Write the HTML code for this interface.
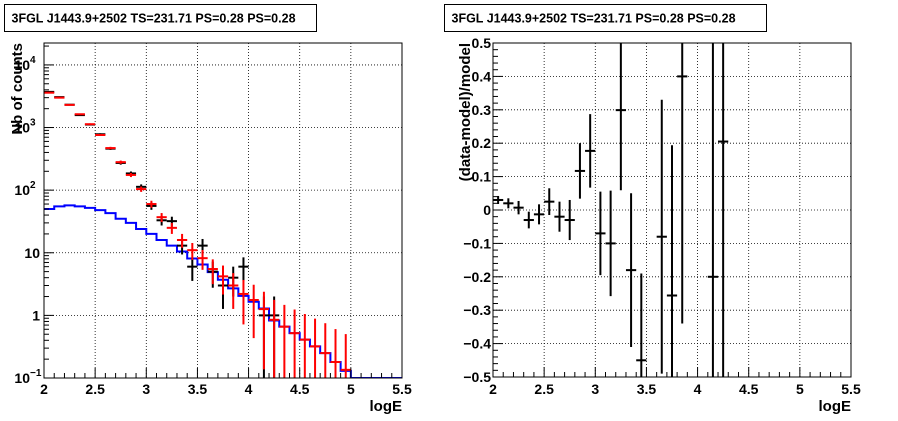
<!DOCTYPE html>
<html><head><meta charset="utf-8"><style>
html,body{margin:0;padding:0;background:#fff;width:898px;height:421px;overflow:hidden;}
svg{display:block;font-family:"Liberation Sans",Arial,sans-serif;font-weight:bold;}
</style></head><body>
<svg id="c" width="898" height="421" viewBox="0 0 898 421" xmlns="http://www.w3.org/2000/svg"></svg>
<script>
const binCenters=[2.05,2.15,2.25,2.35,2.45,2.55,2.65,2.75,2.85,2.95,3.05,3.15,3.25,3.35,3.45,3.55,3.65,3.75,3.85,3.95,4.05,4.15,4.25,4.35,4.45,4.55,4.65,4.75,4.85,4.95];
const dataCounts=[3710,3060,2315,1580,1115,780,460,272,185,113,56,33,32,13,6,13,5,3,4,6,0,1,1,0,0,0,0,0,0,0];
const modelCounts=[3600,3000,2300,1630,1130,760,470,280,175,104,60,37,25,16,11,8.2,5.5,4.2,3.0,2.2,1.76,1.26,0.85,0.66,0.52,0.41,0.32,0.25,0.18,0.135];
const srcEdges=[2.0,2.1,2.2,2.3,2.4,2.5,2.6,2.7,2.8,2.9,3.0,3.1,3.2,3.3,3.4,3.5,3.6,3.7,3.8,3.9,4.0,4.1,4.2,4.3,4.4,4.5,4.6,4.7,4.8,4.9,5.0,5.5];
const srcCounts=[50,55,57,55,52,48,43,35,30,24,20,16,13,10.5,8.1,6.5,4.9,3.7,2.7,2.05,1.65,1.29,0.83,0.66,0.52,0.41,0.32,0.25,0.18,0.13,0.1];
const resX=[2.05,2.15,2.25,2.35,2.45,2.55,2.65,2.75,2.85,2.95,3.05,3.15,3.25,3.35,3.45,3.65,3.75,3.85,4.15,4.25];
const resVal=[0.03,0.02,0.007,-0.03,-0.013,0.025,-0.02,-0.03,0.117,0.177,-0.07,-0.1,0.299,-0.18,-0.45,-0.08,-0.256,0.40,-0.2,0.205];
const resErr=[0.012,0.015,0.02,0.025,0.03,0.04,0.045,0.06,0.083,0.11,0.125,0.158,0.24,0.23,0.26,0.41,0.45,0.74,1.0,1.0];
const xTicks=["2","2.5","3","3.5","4","4.5","5","5.5"];
const resTicks=["-0.5","-0.4","-0.3","-0.2","-0.1","0","0.1","0.2","0.3","0.4","0.5"];
const titleText="3FGL J1443.9+2502 TS=231.71 PS=0.28 PS=0.28";

const NS="http://www.w3.org/2000/svg";
const svg=document.getElementById('c');
function mk(tag,attrs,parent){const e=document.createElementNS(NS,tag);for(const k in attrs)e.setAttribute(k,attrs[k]);(parent||svg).appendChild(e);return e;}
function line(x1,y1,x2,y2,st,w,dash,p){return mk('line',{x1,y1,x2,y2,stroke:st,'stroke-width':w,'stroke-dasharray':dash||'none'},p);}

const L={x0:44,x1:402,y0:43,y1:378};
const lxs=v=>L.x0+(v-2)/3.5*(L.x1-L.x0);
const lymin=-1,lymax=4.35;
const lys=v=>L.y1-(Math.log10(v)-lymin)/(lymax-lymin)*(L.y1-L.y0);
const R={x0:493,x1:851,y0:43,y1:377};
const rxs=v=>R.x0+(v-2)/3.5*(R.x1-R.x0);
const rys=v=>R.y1-(v+0.5)/1.0*(R.y1-R.y0);

function titleBox(x,w,name){
  const g=mk('g',{});
  
  
  mk('rect',{x:x,y:4.5,width:w,height:27,fill:'#fff',stroke:'#000','stroke-width':1},g);
  const t=mk('text',{x:x+7,y:22.5,'font-size':'12.5px',fill:'#000'},g);t.textContent=titleText;
}
titleBox(4.5,312,'left-title');
titleBox(444.5,322,'right-title');

const lg=mk('g',{});


xTicks.forEach((t,i)=>{const v=2+0.5*i;const x=lxs(v);if(i>0&&i<7)line(x,L.y0,x,L.y1,'#000',0.8,'1,2',lg);});
[0.1,1,10,100,1000,10000].forEach(v=>{const y=lys(v);if(v>0.1)line(L.x0,y,L.x1,y,'#000',0.8,'1,2',lg);});
const defs=mk('defs',{});
const cp=mk('clipPath',{id:'lclip'},defs);mk('rect',{x:L.x0,y:L.y0,width:L.x1-L.x0,height:L.y1-L.y0},cp);
const cp2=mk('clipPath',{id:'rclip'},defs);mk('rect',{x:R.x0,y:R.y0,width:R.x1-R.x0,height:R.y1-R.y0},cp2);
const lc=mk('g',{'clip-path':'url(#lclip)'},lg);
let d='';
srcCounts.forEach((v,i)=>{const y=lys(v);const xa=lxs(srcEdges[i]),xb=lxs(srcEdges[i+1]);d+=(i===0?'M':'L')+xa+','+y+'L'+xb+','+y;});
const sp=mk('path',{d:d,fill:'none',stroke:'#0000ff','stroke-width':2},lc);


dataCounts.forEach((v,i)=>{
  if(v<=0)return;
  const x=binCenters[i];const e=Math.sqrt(v);
  const g=mk('g',{},lc);
  
  
  const lo=v-e>0?lys(v-e):L.y1+5;
  line(lxs(x),lys(v+e),lxs(x),lo,'#000',2,null,g);
  line(lxs(x-0.05),lys(v),lxs(x+0.05),lys(v),'#000',2,null,g);
});
modelCounts.forEach((v,i)=>{
  const x=binCenters[i];const e=Math.sqrt(v);
  const g=mk('g',{},lc);
  
  
  const lo=v-e>0?lys(v-e):L.y1+5;
  line(lxs(x),lys(v+e),lxs(x),lo,'#ff0000',2,null,g);
  line(lxs(x-0.05),lys(v),lxs(x+0.05),lys(v),'#ff0000',2,null,g);
});
mk('rect',{x:L.x0,y:L.y0,width:L.x1-L.x0,height:L.y1-L.y0,fill:'none',stroke:'#000','stroke-width':1},lg);
for(let k=0;k<=35;k++){const x=lxs(2+k*0.1);const len=k%5===0?10:5;line(x,L.y1,x,L.y1-len,'#000',1,null,lg);}
xTicks.forEach((t,i)=>{const tx=mk('text',{x:lxs(2+0.5*i),y:L.y1+16,'text-anchor':'middle','font-size':'14px'},lg);tx.textContent=t;
  });
for(let dec=-1;dec<=4;dec++){for(let m=1;m<=9;m++){const v=m*Math.pow(10,dec);if(Math.log10(v)>lymax)break;const y=lys(v);line(L.x0,y,L.x0+(m===1?10:5),y,'#000',1,null,lg);}}
const ylab=[[0.1,'10','−1'],[1,'1',''],[10,'10',''],[100,'10','2'],[1000,'10','3'],[10000,'10','4']];
ylab.forEach(a=>{const y=lys(a[0]);const t=mk('text',{x:a[2]?30:40,y:y+5,'text-anchor':'end','font-size':'14px'},lg);t.textContent=a[1];
  
  if(a[2]){const s=mk('text',{x:30,y:y-2,'font-size':'10px'},lg);s.textContent=a[2];}});
const lxt=mk('text',{x:402,y:411,'text-anchor':'end','font-size':'15px'},lg);lxt.textContent='logE';

const lyt=mk('text',{x:0,y:0,'text-anchor':'end','font-size':'15px',transform:'translate(22,43) rotate(-90)'},lg);lyt.textContent='Nb of counts';


const rg=mk('g',{});


xTicks.forEach((t,i)=>{const x=rxs(2+0.5*i);if(i>0&&i<7)line(x,R.y0,x,R.y1,'#000',0.8,'1,2',rg);});
resTicks.forEach((t,i)=>{const y=rys(-0.5+0.1*i);if(i>0&&i<10)line(R.x0,y,R.x1,y,'#000',0.8,'1,2',rg);});
const rc=mk('g',{'clip-path':'url(#rclip)'},rg);
resX.forEach((x,i)=>{
  const v=resVal[i],e=resErr[i];
  if(v<-0.5||v>0.5)return;
  const g=mk('g',{},rc);
  
  
  line(rxs(x),rys(v+e),rxs(x),rys(v-e),'#000',2,null,g);
  line(rxs(x-0.05),rys(v),rxs(x+0.05),rys(v),'#000',2,null,g);
});
mk('rect',{x:R.x0,y:R.y0,width:R.x1-R.x0,height:R.y1-R.y0,fill:'none',stroke:'#000','stroke-width':1},rg);
for(let k=0;k<=35;k++){const x=rxs(2+k*0.1);const len=k%5===0?10:5;line(x,R.y1,x,R.y1-len,'#000',1,null,rg);}
for(let k=0;k<=50;k++){const y=rys(-0.5+k*0.02);const len=k%5===0?10:5;line(R.x0,y,R.x0+len,y,'#000',1,null,rg);}
xTicks.forEach((t,i)=>{const tx=mk('text',{x:rxs(2+0.5*i),y:R.y1+17,'text-anchor':'middle','font-size':'14px'},rg);tx.textContent=t;
  });
resTicks.forEach((t,i)=>{const tx=mk('text',{x:R.x0-2,y:rys(-0.5+0.1*i)+5,'text-anchor':'end','font-size':'14px'},rg);tx.textContent=t.replace('-','−');
  });
const rxt=mk('text',{x:851,y:411,'text-anchor':'end','font-size':'15px'},rg);rxt.textContent='logE';

const ryt=mk('text',{x:0,y:0,'text-anchor':'end','font-size':'15px',transform:'translate(470,43) rotate(-90)'},rg);ryt.textContent='(data-model)/model';

</script>
</body></html>
